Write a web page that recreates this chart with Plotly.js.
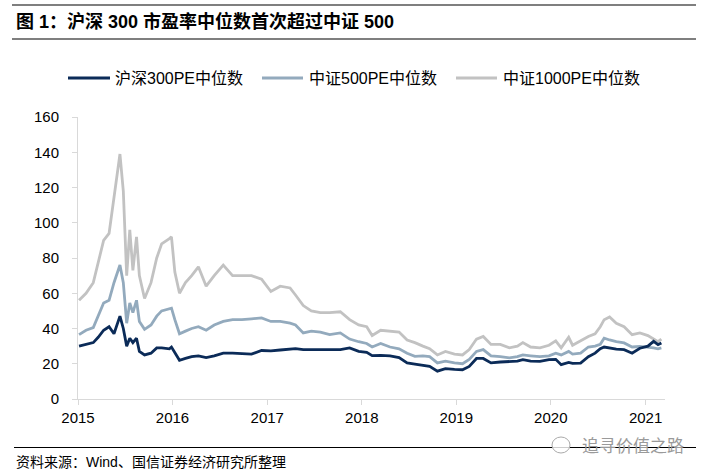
<!DOCTYPE html>
<html>
<head>
<meta charset="utf-8">
<script src="https://cdn.plot.ly/plotly-3.0.1.min.js"></script>
<style>html,body{margin:0;padding:0;background:#fff;}#chart{width:701px;height:476px;}</style>
</head>
<body>
<div id="chart"></div>
<script>
const dates = ["2015-01-05","2015-02-01","2015-03-01","2015-03-20","2015-04-10","2015-05-01","2015-05-20","2015-06-12","2015-06-25","2015-07-08","2015-07-20","2015-08-01","2015-08-15","2015-08-26","2015-09-15","2015-10-10","2015-11-01","2015-11-20","2015-12-20","2015-12-28","2016-01-10","2016-01-28","2016-02-20","2016-03-15","2016-04-10","2016-05-10","2016-06-10","2016-07-15","2016-08-20","2016-09-25","2016-11-01","2016-12-10","2017-01-15","2017-02-20","2017-03-30","2017-04-20","2017-05-20","2017-06-20","2017-07-25","2017-08-30","2017-10-10","2017-11-15","2017-12-20","2018-01-20","2018-02-10","2018-03-15","2018-04-20","2018-05-25","2018-06-25","2018-07-25","2018-08-25","2018-09-20","2018-10-20","2018-11-20","2018-12-25","2019-01-25","2019-02-20","2019-03-20","2019-04-15","2019-05-15","2019-06-20","2019-07-25","2019-08-25","2019-09-15","2019-10-15","2019-11-20","2019-12-25","2020-01-20","2020-02-10","2020-03-10","2020-03-25","2020-04-25","2020-05-25","2020-06-20","2020-07-10","2020-07-25","2020-08-15","2020-09-10","2020-10-10","2020-11-10","2020-12-10","2021-01-10","2021-02-01","2021-02-18","2021-03-03"];

const csi300 = [30,31,32,35,39,41,37,47,40,30,34.5,32,34.5,27,25,26,29,29,28.5,29.5,26,22,23,24,24.5,23.5,24.5,26,26,25.8,25.5,27.5,27.3,27.8,28.3,28.6,28,28,27.8,27.6,28,29,27,26.5,24.6,24.8,24.5,23.5,20.5,19.8,19,18.5,15.8,17.2,16.8,16.6,18.5,23,23,20.5,21,21.3,21.5,22.3,21.5,21.3,22.3,22.5,19.5,20.8,20.2,20.4,24,26,28.5,29.5,28.9,28.3,28,26,28.8,30,32.7,30.8,31.8];

const csi500 = [36.5,39,40.5,47,54.5,56,66,76,66,43,54.5,49,56,44,39.5,42,47,50,51,51.5,45,37,38.5,40,41,39,42,44,45,45,45.5,46,44,44,43,42,37.5,38.5,38,36.5,37.5,34,32.5,31.5,29.5,31.5,29.5,28.5,26,24.2,24.5,24,20.5,21.5,20.5,20,22.5,27,28,24.5,24,23.3,24,25,24.5,24,24.5,26,25,27,25.5,26,29.5,30,31,34.5,33.5,32.5,31.8,29.5,29.8,29.5,29,28.5,29];

const csi1000 = [56,60,66,78,90,94,115,139,118,70,96,73,92,70,57,66,80,88,91,92,72,60,66,70,75,64,70,76,70,70,70,68,61,64,63,59,53,50,49,49,49.5,45,42,41,36,39,38.5,38,33.5,32,30,28.5,25,27,25.5,25,28,34,35.5,31,31,29,30,32,29.5,29,30.5,33,29,35,30.5,33,35.5,37,41,45,46.5,43,41,36.5,37.5,36,34,32.5,34];

const seriesNames = ["沪深300PE中位数","中证500PE中位数","中证1000PE中位数"];
const yearTicks = ["2015-01-01","2016-01-01","2017-01-01","2018-01-01","2019-01-01","2020-01-01","2021-01-01"];
const yearLabels = ["2015","2016","2017","2018","2019","2020","2021"];
const titleText = "图 1：沪深 300 市盈率中位数首次超过中证 500";
const sourceText = "资料来源：Wind、国信证券经济研究所整理";
const watermarkText = "追寻价值之路";

const colors = ["#0b2b58","#93aabd","#c2c2c2"];
const M = {l:78, r:36, t:117, b:77};
const W = 701, H = 476;
const PW = W - M.l - M.r, PH = H - M.t - M.b;
const px = x => (x - M.l) / PW;
const py = y => (H - M.b - y) / PH;

const FONT = "Liberation Sans, Arial, Noto Sans CJK SC, sans-serif";
const CJK = "Liberation Sans, Noto Sans CJK SC, sans-serif";

const traces = [
  {x: dates, y: csi1000, name: seriesNames[2], mode: "lines", line: {color: colors[2], width: 2.8}},
  {x: dates, y: csi500, name: seriesNames[1], mode: "lines", line: {color: colors[1], width: 2.8}},
  {x: dates, y: csi300, name: seriesNames[0], mode: "lines", line: {color: colors[0], width: 2.8}}
];

const shapes = [
  {type:"line", xref:"paper", yref:"paper", x0:px(12), x1:px(696), y0:py(5), y1:py(5), line:{color:"#000", width:1.2}},
  {type:"line", xref:"paper", yref:"paper", x0:px(12), x1:px(696), y0:py(39), y1:py(39), line:{color:"#000", width:1.2}},
  {type:"line", xref:"paper", yref:"paper", x0:px(14), x1:px(696), y0:py(447.5), y1:py(447.5), line:{color:"#000", width:1}}
];
const annotations = [
  {text:"<b>"+titleText+"</b>", xref:"paper", yref:"paper", x:px(14), y:py(22), xanchor:"left", yanchor:"middle", showarrow:false, font:{family:CJK, size:18, color:"#000"}},
  {text:sourceText, xref:"paper", yref:"paper", x:px(14), y:py(462), xanchor:"left", yanchor:"middle", showarrow:false, font:{family:CJK, size:14, color:"#000"}},
  {text:watermarkText, xref:"paper", yref:"paper", x:px(580), y:py(446), xanchor:"left", yanchor:"middle", showarrow:false, font:{family:CJK, size:17, color:"#9a9a9a"}}
];
shapes.push({type:"circle", xref:"paper", yref:"paper", x0:px(552), x1:px(570), y0:py(437), y1:py(453), line:{color:"#aaaaaa", width:1}, fillcolor:"rgba(255,255,255,0.8)"});

const legendItems = [
  {x0:68, x1:110, tx:113, name:seriesNames[0], color:colors[0]},
  {x0:262, x1:303, tx:307, name:seriesNames[1], color:colors[1]},
  {x0:456, x1:497, tx:501, name:seriesNames[2], color:colors[2]}
];
legendItems.forEach(it => {
  shapes.push({type:"line", xref:"paper", yref:"paper", x0:px(it.x0), x1:px(it.x1), y0:py(78), y1:py(78), line:{color:it.color, width:2.8}});
  annotations.push({text:it.name, xref:"paper", yref:"paper", x:px(it.tx), y:py(78), xanchor:"left", yanchor:"middle", showarrow:false, font:{family:CJK, size:16, color:"#000"}});
});

const layout = {
  width: W, height: H, autosize: false,
  margin: {l:M.l, r:M.r, t:M.t, b:M.b, pad:0},
  paper_bgcolor: "#fff", plot_bgcolor: "#fff",
  showlegend: false,
  font: {family: FONT, size: 14, color: "#000"},
  xaxis: {
    type: "date", range: ["2015-01-01","2021-03-17"],
    tickvals: yearTicks, ticktext: yearLabels,
    showgrid: false, zeroline: false, showline: true, linecolor: "#d9d9d9", linewidth: 1,
    ticks: "outside", ticklen: 5, tickcolor: "#d9d9d9",
    tickfont: {family: FONT, size: 15, color: "#000"}
  },
  yaxis: {
    range: [0,160], dtick: 20, tick0: 0,
    showgrid: false, zeroline: false, showline: true, linecolor: "#d9d9d9", linewidth: 1,
    ticks: "outside", ticklen: 5, tickcolor: "#d9d9d9", ticklabelstandoff: 10,
    tickfont: {family: FONT, size: 15, color: "#000"}
  },
  shapes: shapes,
  annotations: annotations
};

Plotly.newPlot("chart", traces, layout, {staticPlot: true, displayModeBar: false});
</script>
</body>
</html>
